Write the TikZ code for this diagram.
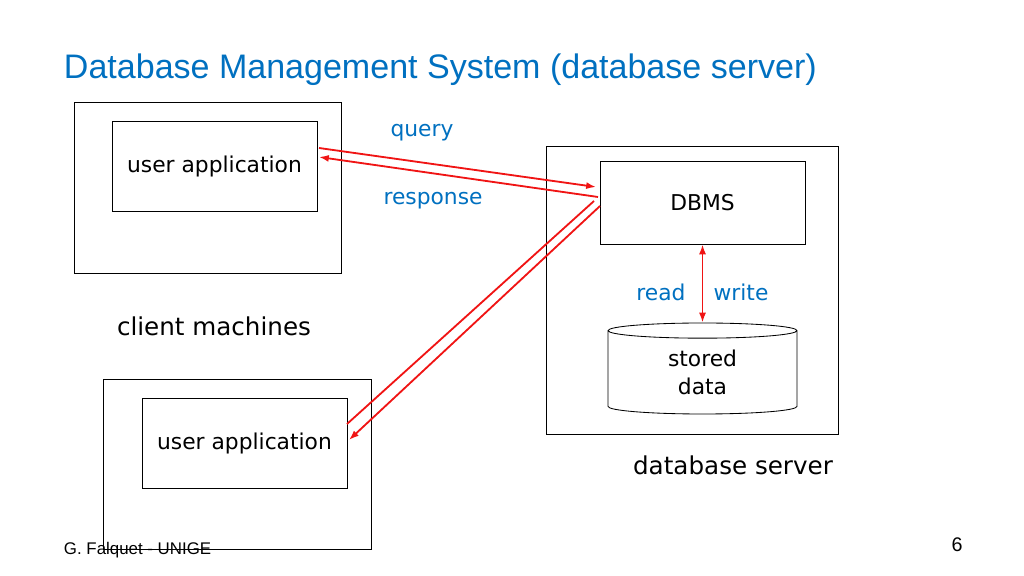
\documentclass[tikz,border=0pt]{standalone}
\usepackage{fontspec}
\setmainfont{DejaVu Sans}
\newfontfamily\titlefont{Liberation Sans}
\usetikzlibrary{shapes.geometric, arrows.meta}
\definecolor{ugblue}{RGB}{0,112,192}
\definecolor{ugred}{RGB}{240,20,20}
\begin{document}
\begin{tikzpicture}[
            x = 0.025cm, y = -0.025cm, % pixel grid of the slide
            > = {Latex[length = 7pt, width = 5pt]}, % arrow head style
            box/.style = {draw = black, semithick, inner sep = 0pt},
            lbl/.style = {font = \fontsize{15.5}{20}\selectfont},
            note/.style = {lbl, text = ugblue},
            link/.style = {draw = ugred, line width = 1.3pt}
        ]

        \useasboundingbox (0,0) rectangle (1024,576);

        \node[anchor = west, text = ugblue, font = \titlefont\fontsize{24.2}{28}\selectfont] (title) at (59,70) {Database Management System (database server)};

        % client machines
        \node[box, minimum width = 267*0.025cm, minimum height = 171*0.025cm] (c1) at (207.5,187.5) {};
        \node[box, lbl, minimum width = 205*0.025cm, minimum height = 90*0.025cm] (ua1) at (214.5,166) {user application};
        \node[box, minimum width = 268*0.025cm, minimum height = 170*0.025cm] (c2) at (237,464) {};
        \node[box, lbl, minimum width = 205*0.025cm, minimum height = 90*0.025cm] (ua2) at (244.5,443) {user application};
        \node[lbl, font = \fontsize{17.5}{21}\selectfont] (cm) at (214,326) {client machines};

        % server
        \node[box, minimum width = 292*0.025cm, minimum height = 288*0.025cm] (srv) at (692,290) {};
        \node[box, lbl, minimum width = 205*0.025cm, minimum height = 83*0.025cm] (dbms) at (702.5,202.5) {DBMS};
        \node[box, lbl, cylinder, shape border rotate = 90, aspect = 0.22, align = center,
              minimum height = 91*0.025cm, minimum width = 189*0.025cm] (data) at (702.5,372.5) {stored\\data};
        \node[lbl, font = \fontsize{17.5}{21}\selectfont] (ds) at (733,465) {database server};

        \node[note] (rd) at (661,292) {read};
        \node[note] (wr) at (741,292) {write};
        \node[note] (qy) at (422,133) {query};
        \node[note] (rs) at (433,201) {response};

        \coordinate (q1) at (319,148);
        \coordinate (q2) at (596,187);
        \coordinate (r1) at (598,197);
        \coordinate (r2) at (319,157);
        \coordinate (s1) at (594,201);
        \coordinate (s2) at (347,424);
        \coordinate (t1) at (600,206);
        \coordinate (t2) at (349,440);

        \draw[link, ->] (q1) -- (q2);
        \draw[link, ->] (r1) -- (r2);
        \draw[link] (s1) -- (s2);
        \draw[link, ->] (t1) -- (t2);
        \draw[link, <->] (dbms.south) -- (data.north);

        \node[anchor = west, font = \titlefont\fontsize{12}{14}\selectfont] (ft) at (59,550) {G. Falquet - UNIGE};
        \node[font = \titlefont\fontsize{14}{16}\selectfont] (pg) at (957,545) {6};

  \end{tikzpicture}
\end{document}
